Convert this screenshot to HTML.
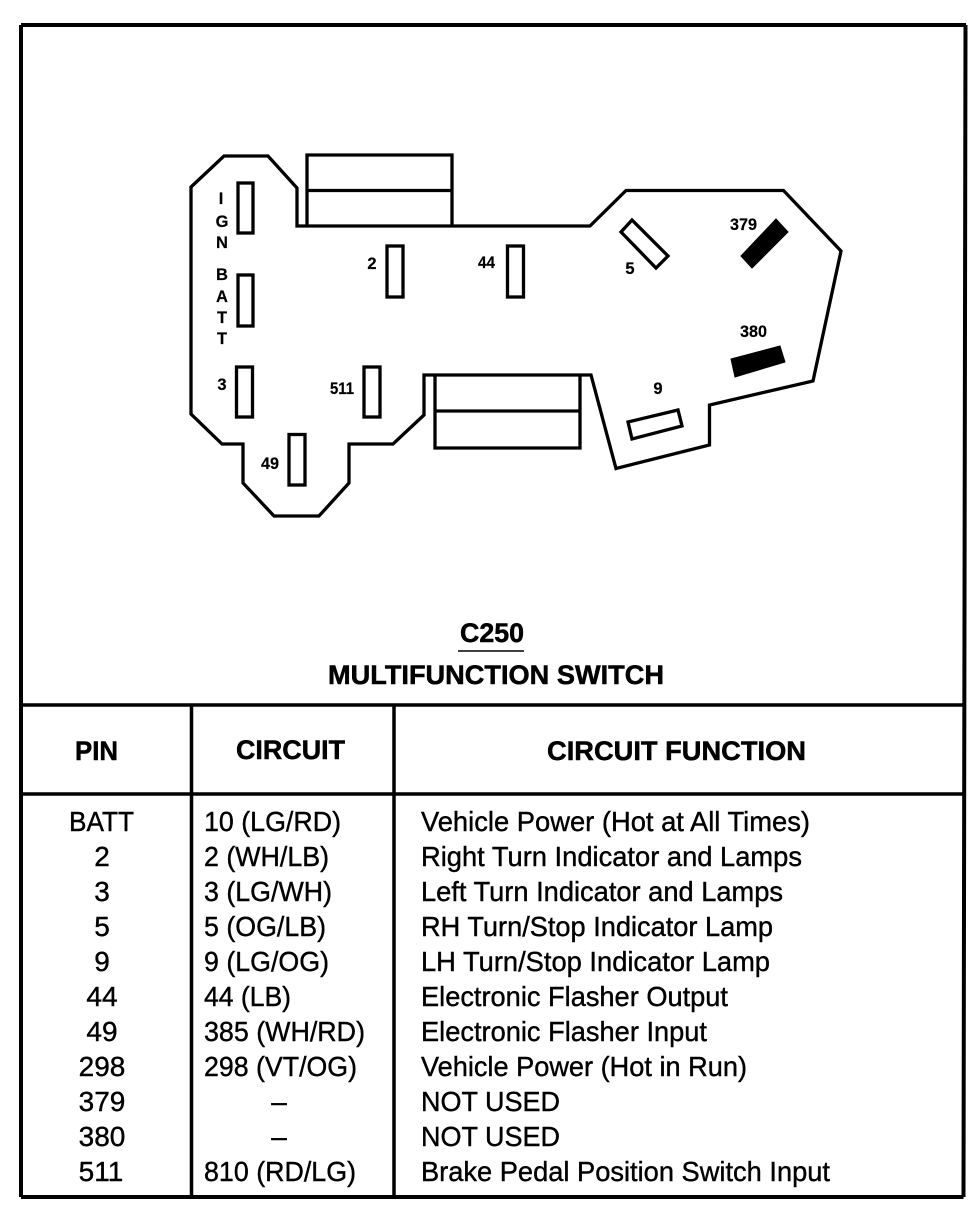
<!DOCTYPE html>
<html>
<head>
<meta charset="utf-8">
<style>
html,body{margin:0;padding:0;background:#fff;}
svg{display:block;}
text{font-family:"Liberation Sans",sans-serif;fill:#000;}
.b{font-size:28px;stroke:#000;stroke-width:.4px;}
.h{font-size:27px;font-weight:bold;stroke:#000;stroke-width:.5px;}
.p{font-size:16.500px;font-weight:bold;stroke:#000;stroke-width:.2px;}
.m{text-anchor:middle;}
</style>
</head>
<body>
<svg width="978" height="1216" viewBox="0 0 978 1216" xmlns="http://www.w3.org/2000/svg">
<rect width="978" height="1216" fill="#fff"/>
<g fill="none" stroke="#000">
<path d="M21 25H966M21 25V1197M965.500 25L963.500 1197M21 1197H963.500" stroke-width="4"/>
<path d="M21 705H964M21 794H964M191.500 705V1197M394 705V1197" stroke-width="3.500"/>
<path d="M224 156H268L297 188V226H590L626 190.500H783.500L841 251L813 381L709.500 405V445L616 468.500L591 375H424V415L393 444H349V483L319 516H274L243 483V444H222L191 414V187Z" stroke-width="3.300"/>
<path d="M307 226V155H452V226M307 190.500H452" stroke-width="3.300"/>
<path d="M435 375V448H580V375M435 411H580" stroke-width="3.300"/>
<rect x="238" y="183" width="15" height="50" stroke-width="3.300"/>
<rect x="238" y="275" width="15" height="51" stroke-width="3.300"/>
<rect x="236.500" y="367" width="16" height="50" stroke-width="3.300"/>
<rect x="364" y="367" width="16" height="50" stroke-width="3.300"/>
<rect x="289" y="434.500" width="16" height="50.500" stroke-width="3.300"/>
<rect x="387" y="246" width="16" height="51" stroke-width="3.300"/>
<rect x="507.500" y="246" width="16" height="51" stroke-width="3.300"/>
<path d="M632 220L668 256L656 268L621 232Z" stroke-width="3.300"/>
<path d="M628 422L678 410L682 426L632 439Z" stroke-width="3.300"/>
</g>
<path d="M776 219L788 232L752 268L741 256Z" fill="#000" stroke="#000"/>
<path d="M780 346L785 362L735 377L731 359Z" fill="#000" stroke="#000"/>
<path d="M458 651H524" stroke="#000" stroke-width="1.500"/>

<text class="p m" x="221" y="204">I</text>
<text class="p m" x="222" y="227">G</text>
<text class="p m" x="222" y="248">N</text>
<text class="p m" x="222" y="280">B</text>
<text class="p m" x="222" y="302">A</text>
<text class="p m" x="222" y="323">T</text>
<text class="p m" x="222" y="344">T</text>
<text class="p m" x="222" y="390">3</text>
<text class="p" x="330" y="394" textLength="24" lengthAdjust="spacingAndGlyphs">511</text>
<text class="p" x="261" y="469" textLength="18" lengthAdjust="spacingAndGlyphs">49</text>
<text class="p m" x="372" y="269">2</text>
<text class="p" x="478" y="268" textLength="17" lengthAdjust="spacingAndGlyphs">44</text>
<text class="p m" x="630" y="274">5</text>
<text class="p" x="730" y="230" textLength="27" lengthAdjust="spacingAndGlyphs">379</text>
<text class="p" x="740" y="337" textLength="27" lengthAdjust="spacingAndGlyphs">380</text>
<text class="p m" x="658" y="394">9</text>

<text class="h" x="460" y="642" textLength="64" lengthAdjust="spacingAndGlyphs">C250</text>
<text class="h" x="328" y="684" textLength="336" lengthAdjust="spacingAndGlyphs">MULTIFUNCTION SWITCH</text>
<text class="h" x="75" y="760" textLength="43" lengthAdjust="spacingAndGlyphs">PIN</text>
<text class="h" x="236" y="759" textLength="109" lengthAdjust="spacingAndGlyphs">CIRCUIT</text>
<text class="h" x="547" y="760" textLength="259" lengthAdjust="spacingAndGlyphs">CIRCUIT FUNCTION</text>

<text class="b" x="69" y="831" textLength="65" lengthAdjust="spacingAndGlyphs">BATT</text>
<text class="b m" x="102" y="866">2</text>
<text class="b m" x="102" y="901">3</text>
<text class="b m" x="102" y="936">5</text>
<text class="b m" x="102" y="971">9</text>
<text class="b m" x="102" y="1006">44</text>
<text class="b m" x="102" y="1041">49</text>
<text class="b m" x="102" y="1076">298</text>
<text class="b m" x="102" y="1111">379</text>
<text class="b m" x="102" y="1146">380</text>
<text class="b m" x="101" y="1181">511</text>

<text class="b" x="204" y="831" textLength="137" lengthAdjust="spacingAndGlyphs">10 (LG/RD)</text>
<text class="b" x="204" y="866" textLength="125" lengthAdjust="spacingAndGlyphs">2 (WH/LB)</text>
<text class="b" x="204" y="901" textLength="128" lengthAdjust="spacingAndGlyphs">3 (LG/WH)</text>
<text class="b" x="204" y="936" textLength="122" lengthAdjust="spacingAndGlyphs">5 (OG/LB)</text>
<text class="b" x="204" y="971" textLength="125" lengthAdjust="spacingAndGlyphs">9 (LG/OG)</text>
<text class="b" x="204" y="1006" textLength="87" lengthAdjust="spacingAndGlyphs">44 (LB)</text>
<text class="b" x="204" y="1041" textLength="161" lengthAdjust="spacingAndGlyphs">385 (WH/RD)</text>
<text class="b" x="204" y="1076" textLength="153" lengthAdjust="spacingAndGlyphs">298 (VT/OG)</text>
<text class="b m" x="279" y="1111">–</text>
<text class="b m" x="279" y="1146">–</text>
<text class="b" x="204" y="1181" textLength="152" lengthAdjust="spacingAndGlyphs">810 (RD/LG)</text>

<text class="b" x="421" y="831" textLength="389" lengthAdjust="spacingAndGlyphs">Vehicle Power (Hot at All Times)</text>
<text class="b" x="421" y="866" textLength="381" lengthAdjust="spacingAndGlyphs">Right Turn Indicator and Lamps</text>
<text class="b" x="421" y="901" textLength="362" lengthAdjust="spacingAndGlyphs">Left Turn Indicator and Lamps</text>
<text class="b" x="421" y="936" textLength="352" lengthAdjust="spacingAndGlyphs">RH Turn/Stop Indicator Lamp</text>
<text class="b" x="421" y="971" textLength="349" lengthAdjust="spacingAndGlyphs">LH Turn/Stop Indicator Lamp</text>
<text class="b" x="421" y="1006" textLength="307" lengthAdjust="spacingAndGlyphs">Electronic Flasher Output</text>
<text class="b" x="421" y="1041" textLength="286" lengthAdjust="spacingAndGlyphs">Electronic Flasher Input</text>
<text class="b" x="421" y="1076" textLength="326" lengthAdjust="spacingAndGlyphs">Vehicle Power (Hot in Run)</text>
<text class="b" x="421" y="1111" textLength="139" lengthAdjust="spacingAndGlyphs">NOT USED</text>
<text class="b" x="421" y="1146" textLength="139" lengthAdjust="spacingAndGlyphs">NOT USED</text>
<text class="b" x="421" y="1181" textLength="409" lengthAdjust="spacingAndGlyphs">Brake Pedal Position Switch Input</text>
</svg>
</body>
</html>
